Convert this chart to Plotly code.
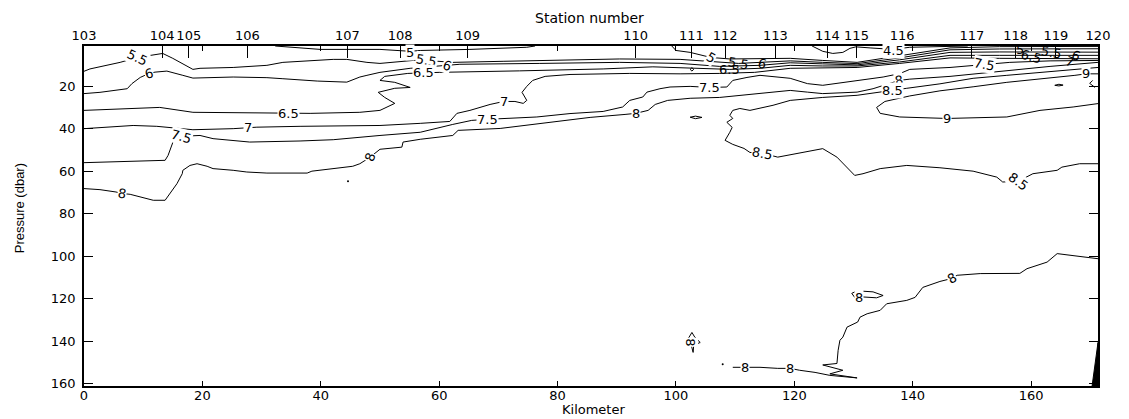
import plotly.graph_objects as go

# ---------------------------------------------------------------------------
# Section axes
# ---------------------------------------------------------------------------
station_numbers = [103, 104, 105, 106, 107, 108, 109, 110, 111, 112,
                   113, 114, 115, 116, 117, 118, 119, 120]
station_km = [0.0, 13.2, 17.7, 27.6, 44.5, 53.4, 64.8, 93.2, 102.6, 108.3,
              116.8, 125.6, 130.5, 138.2, 150.0, 157.4, 164.2, 171.3]
km_ticks = [0, 20, 40, 60, 80, 100, 120, 140, 160]
pressure_ticks = [20, 40, 60, 80, 100, 120, 140, 160]
km_range = [0, 171.3]
pressure_range = [161, 1]

# ---------------------------------------------------------------------------
# Isolines: distance along section (km) and pressure (dbar)
# ---------------------------------------------------------------------------
iso_45_km = [123.0, 124.8, 126.5, 128.2, 129.4, 130.4, 132.8, 136.7, 139.5, 146.3, 149.3]
iso_45_p = [1.0, 3.5, 4.5, 4.0, 2.1, 1.4, 1.9, 2.6, 1.6, 1.2, 1.0]

iso_5a_km = [32.3, 34.8, 39.9, 50.0, 53.4, 55.1, 56.8, 65.2, 74.8, 76.2]
iso_5a_p = [1.0, 1.6, 2.6, 2.6, 3.1, 3.5, 3.1, 2.6, 1.6, 1.0]

iso_5b_km = [99.3, 100.0, 102.4, 105.9, 109.1, 114.2, 119.3, 124.8, 130.6, 137.8,
             146.3, 154.7, 163.2, 171.3]
iso_5b_p = [1.0, 3.1, 4.0, 6.4, 7.1, 7.1, 6.8, 7.8, 8.7, 5.6, 1.9, 1.3, 1.2, 1.2]

iso_55_km = [0, 1.0, 6.1, 9.0, 13.3, 15.0, 18.4, 19.6, 25.2, 30.9,
             33.6, 42.1, 44.4, 47.8, 50.0, 55.6, 57.9, 62.3, 70.8, 80.4,
             90.5, 100.7, 105.7, 110.6, 114.2, 119.3, 124.8, 130.6, 137.8, 146.3,
             154.7, 163.2, 171.3]
iso_55_p = [12.9, 11.8, 8.7, 6.4, 4.5, 6.8, 12.0, 11.5, 11.1, 10.1,
            8.7, 7.3, 7.3, 8.7, 9.2, 7.8, 7.8, 8.7, 8.2, 7.8,
            7.1, 7.3, 8.2, 9.2, 8.7, 8.0, 8.7, 9.3, 6.6, 2.8,
            2.4, 2.3, 2.3]

iso_6_km = [0, 2.7, 7.3, 8.1, 9.5, 11.0, 12.0, 14.0, 16.7, 18.4,
            25.2, 30.9, 33.6, 39.4, 44.4, 46.6, 47.8, 50.0, 55.1, 59.3,
            61.3, 63.5, 77.0, 90.5, 100.7, 107.4, 114.2, 119.3, 124.8, 130.6,
            137.8, 146.3, 154.7, 163.2, 171.3]
iso_6_p = [23.4, 22.8, 21.1, 18.7, 15.8, 13.9, 13.3, 12.8, 14.8, 16.1,
           15.6, 15.9, 16.4, 17.5, 18.0, 15.6, 14.8, 13.4, 11.5, 10.6,
           10.1, 9.6, 9.2, 8.7, 9.2, 10.6, 10.1, 8.9, 9.4, 9.9,
           7.5, 4.0, 3.8, 3.9, 3.9]

iso_65_km = [0, 8.3, 12.8, 18.4, 30.9, 34.5, 38.2, 46.6, 50.0, 52.5,
             50.8, 49.7, 52.5, 55.1, 52.5, 50.0, 50.8, 54.7, 57.4, 60.1,
             73.6, 87.7, 96.1, 102.4, 109.1, 114.2, 119.3, 124.8, 130.6, 137.8,
             146.3, 154.7, 163.2, 171.3]
iso_65_p = [31.3, 30.4, 29.9, 32.2, 32.7, 32.7, 32.7, 32.2, 31.3, 28.0,
            25.2, 22.8, 20.9, 20.5, 18.1, 17.2, 15.3, 13.9, 13.6, 13.4,
            12.7, 11.8, 10.8, 11.5, 12.0, 11.5, 10.1, 10.4, 10.4, 8.5,
            5.4, 5.4, 5.4, 5.4]

iso_7_km = [0, 2.7, 8.3, 12.3, 17.4, 18.4, 25.2, 27.7, 29.2, 36.5,
            50.0, 56.8, 61.8, 63.0, 65.2, 68.6, 70.9, 72.8, 74.2, 74.8,
            74.0, 74.8, 75.8, 77.9, 82.1, 92.2, 100.7, 107.4, 113.3, 119.3,
            124.8, 130.6, 137.8, 146.3, 154.7, 163.2, 171.3]
iso_7_p = [39.9, 39.4, 38.4, 38.8, 39.9, 40.4, 39.9, 39.3, 39.2, 38.8,
           38.4, 37.4, 36.5, 32.7, 31.3, 28.5, 27.1, 27.1, 28.0, 26.6,
           22.8, 20.0, 17.2, 15.3, 14.4, 13.9, 14.1, 13.9, 13.4, 11.5,
           11.3, 11.1, 9.2, 6.6, 6.8, 7.0, 7.0]

iso_75_km = [0, 13.7, 14.2, 14.9, 15.2, 16.4, 19.6, 21.8, 28.0, 36.5,
             42.1, 50.0, 56.8, 62.3, 65.5, 68.2, 71.1, 76.5, 82.1, 87.7,
             91.0, 92.2, 94.4, 95.1, 97.3, 99.0, 102.4, 105.7, 108.6, 109.6,
             112.0, 114.2, 119.3, 122.2, 124.8, 130.6, 135.0, 137.8, 139.5, 146.3,
             152.2, 156.4, 163.2, 171.3]
iso_75_p = [55.9, 54.8, 52.5, 47.0, 44.9, 43.5, 43.1, 44.6, 46.2, 45.7,
            45.1, 43.1, 41.6, 37.9, 36.0, 35.5, 35.1, 34.4, 32.8, 31.8,
            29.7, 26.6, 25.0, 22.7, 21.1, 20.3, 20.0, 20.5, 20.3, 17.2,
            15.8, 14.8, 16.2, 18.7, 19.5, 17.2, 15.6, 14.0, 12.0, 11.1,
            9.6, 8.7, 8.0, 7.8]

iso_8a_km = [0, 2.7, 5.4, 6.4, 7.8, 9.5, 11.7, 13.7, 14.5, 15.7,
             16.6, 16.7, 17.9, 19.1, 20.8, 21.8, 25.2, 27.5, 30.9, 37.7,
             38.5, 42.1, 45.4, 46.6, 48.3, 50.0, 53.7, 53.9, 56.8, 62.3,
             63.2, 70.3, 78.7, 85.5, 91.4, 93.2, 95.3, 96.5, 98.6, 102.4,
             107.4, 112.5, 119.3, 122.2, 124.8, 130.6, 133.3, 137.7, 139.5, 146.3,
             154.7, 163.2, 171.3]
iso_8a_p = [68.1, 68.6, 69.7, 70.4, 70.8, 72.1, 73.6, 73.6, 70.5, 65.8,
            61.1, 59.5, 57.2, 56.4, 57.6, 58.7, 59.5, 60.3, 60.8, 60.8,
            59.9, 58.7, 57.6, 56.4, 53.4, 49.6, 48.6, 46.2, 44.9, 43.1,
            40.7, 39.8, 36.9, 34.6, 33.2, 32.7, 31.3, 28.5, 26.6, 25.6,
            25.2, 23.8, 21.9, 22.7, 23.4, 22.7, 21.1, 17.2, 16.6, 15.3,
            12.9, 10.6, 8.7]

iso_8b_km = [171.3, 167.1, 164.4, 162.7, 159.3, 158.1, 151.4, 147.5, 146.6, 144.6,
             141.7, 140.4, 139.0, 135.6, 134.5, 132.3, 131.1, 130.7, 129.4, 128.9,
             128.2, 127.7, 127.4, 127.2, 124.8, 128.2, 126.0, 130.6, 126.0, 123.5,
             120.9, 119.3, 117.2, 114.2, 111.7, 109.6]
iso_8b_p = [101.1, 99.5, 98.7, 102.7, 105.8, 108.0, 108.1, 108.9, 110.4, 111.8,
            114.6, 119.3, 120.7, 122.3, 125.4, 127.0, 128.6, 130.9, 132.5, 133.3,
            138.0, 139.5, 144.2, 150.4, 151.1, 153.6, 155.3, 157.2, 156.0, 154.6,
            153.6, 152.7, 152.7, 152.2, 152.2, 152.2]

iso_8c_km = [129.7, 130.6, 133.3, 135.0, 133.9, 131.6, 130.2, 129.7]
iso_8c_p = [117.4, 116.2, 116.7, 118.4, 119.5, 119.1, 119.3, 117.4]

iso_8d_km = [102.7, 103.2, 104.1, 103.0, 102.9, 102.6, 101.4, 102.2, 102.7]
iso_8d_p = [135.8, 138.1, 140.5, 141.9, 145.2, 141.9, 140.5, 138.1, 135.8]

iso_85_km = [171.3, 163.2, 155.9, 150.2, 144.6, 139.0, 136.5, 130.6, 124.8, 119.3,
             116.4, 112.5, 110.8, 109.6, 109.1, 109.6, 108.6, 109.5, 109.1, 108.3,
             109.6, 111.5, 112.5, 114.7, 117.2, 124.8, 127.2, 128.9, 130.2, 131.6,
             134.5, 139.0, 144.6, 150.2, 154.2, 155.2, 157.8, 160.3, 164.4, 165.2,
             168.2, 171.3]
iso_85_p = [11.1, 12.9, 14.8, 16.2, 18.8, 20.9, 21.9, 24.2, 25.2, 26.6,
            28.9, 31.3, 30.4, 31.3, 33.6, 35.1, 36.9, 39.3, 41.6, 45.4,
            47.3, 49.2, 51.1, 51.5, 53.3, 49.3, 53.3, 58.0, 61.9, 61.1,
            58.7, 57.2, 58.3, 59.9, 62.7, 65.0, 64.7, 61.1, 59.5, 58.0,
            56.4, 56.4]

iso_9_km = [171.3, 169.3, 167.4, 161.5, 155.9, 150.2, 144.6, 139.5, 135.3, 133.9,
            134.5, 137.8, 145.8, 155.9, 161.5, 167.1, 171.3]
iso_9_p = [14.1, 14.1, 14.8, 16.5, 18.1, 20.2, 22.1, 24.5, 27.1, 29.9,
           32.7, 34.4, 35.1, 34.4, 31.3, 29.7, 28.1]

# small closed isolines
iso_small_a_km = [102.4, 102.7, 103.0, 102.7, 102.4]
iso_small_a_p = [12.0, 11.2, 12.0, 12.8, 12.0]
iso_small_b_km = [102.4, 103.3, 104.4, 103.3, 102.4]
iso_small_b_p = [34.5, 34.0, 34.6, 35.2, 34.5]
iso_small_c_km = [164.0, 164.7, 165.4, 164.7, 164.0]
iso_small_c_p = [19.5, 19.0, 19.4, 19.8, 19.5]
iso_small_d_km = [170.4, 169.9, 170.8]
iso_small_d_p = [17.2, 18.6, 20.5]
spot_km = [44.6, 107.9]
spot_p = [64.7, 150.8]

# bottom at the end of the section
bottom_km = [171.3, 171.3, 170.3, 171.3]
bottom_p = [140.5, 161.0, 161.0, 140.5]

# Inline isoline labels: text, km, dbar, rotation, white backing
iso_labels = [
    ("5.5", 9.0, 6.4, 25, True),
    ("5", 55.1, 4.0, 0, True),
    ("5.5", 57.9, 7.8, 10, True),
    ("6", 61.3, 10.1, 20, True),
    ("6", 11.0, 13.9, -15, True),
    ("6.5", 34.5, 32.7, 0, True),
    ("6.5", 57.4, 13.6, 0, True),
    ("7", 27.7, 39.3, 0, True),
    ("7", 70.9, 27.1, 0, True),
    ("7.5", 16.4, 43.5, 15, True),
    ("7.5", 68.2, 35.5, 0, True),
    ("7.5", 105.7, 20.5, 0, True),
    ("7.5", 152.2, 9.6, 10, True),
    ("8", 6.4, 70.4, 10, True),
    ("8", 48.3, 53.4, -70, True),
    ("8", 93.2, 32.7, 0, True),
    ("8", 137.7, 17.2, -10, True),
    ("8.5", 136.5, 21.9, 0, True),
    ("8.5", 114.7, 51.5, 10, True),
    ("8.5", 157.8, 64.7, 35, True),
    ("9", 169.3, 14.1, 0, True),
    ("9", 145.8, 35.1, 0, True),
    ("8", 146.6, 110.4, -30, True),
    ("8", 119.3, 152.7, 0, True),
    ("8", 111.7, 152.2, 0, True),
    ("8", 130.9, 119.3, 0, True),
    ("8", 102.4, 140.5, 90, True),
    ("4.5", 136.7, 3.3, 0, True),
    ("5", 105.9, 6.4, 30, True),
    ("5.5", 110.6, 9.2, 10, False),
    ("6", 114.5, 9.4, 15, False),
    ("6.5", 109.1, 12.0, 0, False),
    ("5", 158.1, 2.6, 0, False),
    ("6.5", 160.0, 5.8, 15, False),
    ("5.5", 163.5, 3.9, 10, False),
    ("6", 167.5, 5.4, 20, False),
    ("7", 166.5, 8.2, 20, False),
]

isolines = [
    (iso_45_km, iso_45_p), (iso_5a_km, iso_5a_p), (iso_5b_km, iso_5b_p),
    (iso_55_km, iso_55_p), (iso_6_km, iso_6_p), (iso_65_km, iso_65_p),
    (iso_7_km, iso_7_p), (iso_75_km, iso_75_p), (iso_8a_km, iso_8a_p),
    (iso_8b_km, iso_8b_p), (iso_8c_km, iso_8c_p), (iso_8d_km, iso_8d_p),
    (iso_85_km, iso_85_p), (iso_9_km, iso_9_p),
    (iso_small_a_km, iso_small_a_p), (iso_small_b_km, iso_small_b_p),
    (iso_small_c_km, iso_small_c_p), (iso_small_d_km, iso_small_d_p),
]

FONT = "DejaVu Sans"

fig = go.Figure()

for xs, ys in isolines:
    fig.add_trace(go.Scatter(x=xs, y=ys, mode="lines",
                             line=dict(color="black", width=1),
                             hoverinfo="skip", showlegend=False))

fig.add_trace(go.Scatter(x=spot_km, y=spot_p, mode="markers",
                         marker=dict(color="black", size=2),
                         hoverinfo="skip", showlegend=False))

fig.add_trace(go.Scatter(x=bottom_km, y=bottom_p, mode="lines", fill="toself",
                         fillcolor="black", line=dict(color="black", width=1),
                         hoverinfo="skip", showlegend=False))

# carrier trace for the station axis along the top
fig.add_trace(go.Scatter(x=station_km, y=[1] * len(station_km), xaxis="x2",
                         mode="markers", marker=dict(opacity=0),
                         hoverinfo="skip", showlegend=False))

annotations = []
for text, km, p, ang, backed in iso_labels:
    annotations.append(dict(
        x=km, y=p, xref="x", yref="y", text=text, showarrow=False,
        textangle=ang, font=dict(family=FONT, size=13, color="black"),
        bgcolor="white" if backed else "rgba(0,0,0,0)", borderpad=0,
        xanchor="center", yanchor="middle"))

annotations += [
    dict(x=0.499, y=1.081, xref="paper", yref="paper", text="Station number",
         showarrow=False, font=dict(family=FONT, size=14, color="black"),
         xanchor="center", yanchor="middle"),
    dict(x=0.502, y=-0.070, xref="paper", yref="paper", text="Kilometer",
         showarrow=False, font=dict(family=FONT, size=13, color="black"),
         xanchor="center", yanchor="middle"),
    dict(x=-0.064, y=0.523, xref="paper", yref="paper", text="Pressure (dbar)",
         showarrow=False, textangle=-90,
         font=dict(family="Liberation Sans", size=13, color="black"),
         xanchor="center", yanchor="middle"),
]

axis_font = dict(family=FONT, size=13, color="black")

fig.update_layout(
    width=1129, height=419,
    margin=dict(l=84, r=31, t=46, b=33),
    paper_bgcolor="white", plot_bgcolor="white",
    showlegend=False,
    annotations=annotations,
    xaxis=dict(range=km_range, tickvals=km_ticks, ticks="inside", ticklen=5,
               tickcolor="black", tickwidth=1, showline=True, linecolor="black",
               linewidth=1.5, mirror="ticks", showgrid=False, zeroline=False,
               tickangle=0, tickfont=axis_font, ticklabelstandoff=-3),
    xaxis2=dict(range=km_range, overlaying="x", side="top",
                tickvals=station_km, ticktext=[str(s) for s in station_numbers],
                ticks="inside", ticklen=12, tickcolor="black", tickwidth=1,
                showline=False, showgrid=False, zeroline=False,
                tickangle=0, tickfont=axis_font, ticklabelstandoff=2),
    yaxis=dict(range=pressure_range, tickvals=pressure_ticks, ticks="inside",
               ticklen=9, tickcolor="black", tickwidth=1, showline=True,
               linecolor="black", linewidth=1.5, mirror="ticks", showgrid=False,
               zeroline=False, tickfont=axis_font, ticklabelstandoff=4),
)

fig.write_html("out.html")
